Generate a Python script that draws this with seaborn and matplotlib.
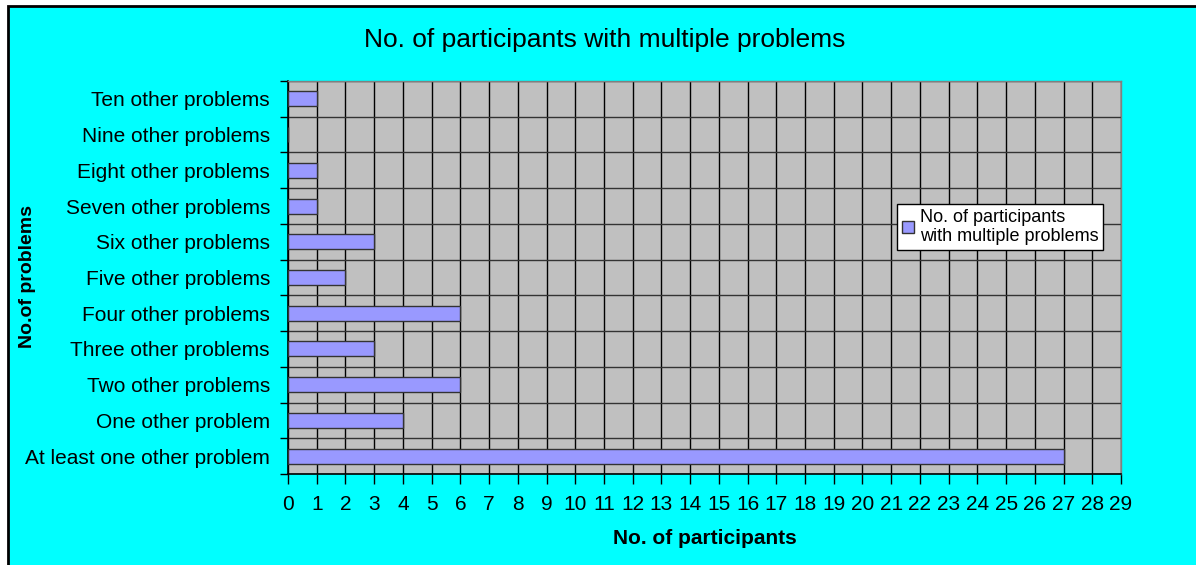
import matplotlib
matplotlib.use("Agg")
import matplotlib.pyplot as plt
import numpy as np
import pandas as pd
import seaborn as sns
from matplotlib.patches import Patch, Rectangle

# data, top to bottom as shown
categories = [
    "Ten other problems",
    "Nine other problems",
    "Eight other problems",
    "Seven other problems",
    "Six other problems",
    "Five other problems",
    "Four other problems",
    "Three other problems",
    "Two other problems",
    "One other problem",
    "At least one other problem",
]
participants = [1, 0, 1, 1, 3, 2, 6, 3, 6, 4, 27]
x_ticks = list(range(0, 30))

series_name = "No. of participants\nwith multiple problems"
bar_color = "#9999FF"
plot_bg = "#C0C0C0"
chart_bg = "#00FFFF"

df = pd.DataFrame({"problems": categories, "participants": participants})

sns.set_theme(style="white")
plt.rcParams["font.family"] = ["Liberation Sans", "DejaVu Sans"]
plt.rcParams["text.color"] = "black"
plt.rcParams["xtick.color"] = "black"
plt.rcParams["ytick.color"] = "black"

fig = plt.figure(figsize=(11.96, 5.65), dpi=100, facecolor="white")
# cyan chart area with frame on top/left
fig.patches.append(
    Rectangle((8 / 1196, -0.01), 1.0, 1 - 6 / 565 + 0.01, transform=fig.transFigure,
              facecolor=chart_bg, edgecolor="black", linewidth=2, zorder=-10)
)

ax = fig.add_axes([288 / 1196, 1 - 474 / 565, (1121 - 288) / 1196, (474 - 81) / 565])
ax.set_facecolor(plot_bg)

sns.barplot(data=df, x="participants", y="problems", orient="h", ax=ax,
            color=bar_color, width=0.42, edgecolor="#333333", linewidth=1.0,
            saturation=1, zorder=3)

n = len(categories)
ax.set_xlim(0, 29)
ax.set_ylim(n - 0.5, -0.5)
ax.set_xticks(x_ticks)
ax.set_xticklabels([str(t) for t in x_ticks], fontsize=15)
ax.set_yticks(range(n))
ax.set_yticklabels(categories, fontsize=15)
ax.set_yticks(np.arange(n + 1) - 0.5, minor=True)

# grid: vertical at each integer, horizontal at category boundaries
ax.grid(axis="x", which="major", color="black", linewidth=1.0, zorder=1)
ax.grid(axis="y", which="minor", color="#333333", linewidth=1.0, zorder=1)
ax.set_axisbelow(True)

ax.tick_params(axis="x", which="major", direction="out", length=7, width=1,
               color="black", pad=8, bottom=True)
ax.tick_params(axis="y", which="major", length=0, pad=13)
ax.tick_params(axis="y", which="minor", direction="out", length=6, width=1,
               color="black", left=True)

for side in ["left", "bottom"]:
    ax.spines[side].set_color("black")
    ax.spines[side].set_linewidth(1.2)
for side in ["top", "right"]:
    ax.spines[side].set_color("#808080")
    ax.spines[side].set_linewidth(1.0)

ax.set_xlabel("")
ax.set_ylabel("")
fig.text(705 / 1196, 1 - 538 / 565, "No. of participants", fontsize=15,
         fontweight="bold", ha="center", va="center")
fig.text(28 / 1196, 1 - 277 / 565, "No.of problems", fontsize=14,
         fontweight="bold", ha="center", va="center", rotation=90)
fig.text(605 / 1196, 1 - 40 / 565, "No. of participants with multiple problems",
         fontsize=19, ha="center", va="center")

handle = Patch(facecolor=bar_color, edgecolor="#333333", linewidth=1.0)
leg = fig.legend([handle], [series_name], loc="upper left",
                 bbox_to_anchor=(897 / 1196, 1 - 204 / 565), fontsize=13,
                 frameon=True, fancybox=False, handlelength=0.7, handleheight=0.7,
                 handletextpad=0.3, borderpad=0.25, borderaxespad=0)
leg.get_frame().set_edgecolor("black")
leg.get_frame().set_linewidth(1.0)
leg.get_frame().set_facecolor("white")
leg.get_frame().set_alpha(1)
for t in leg.get_texts():
    t.set_linespacing(1.2)

fig.savefig("out.png", dpi=100, facecolor=fig.get_facecolor())
